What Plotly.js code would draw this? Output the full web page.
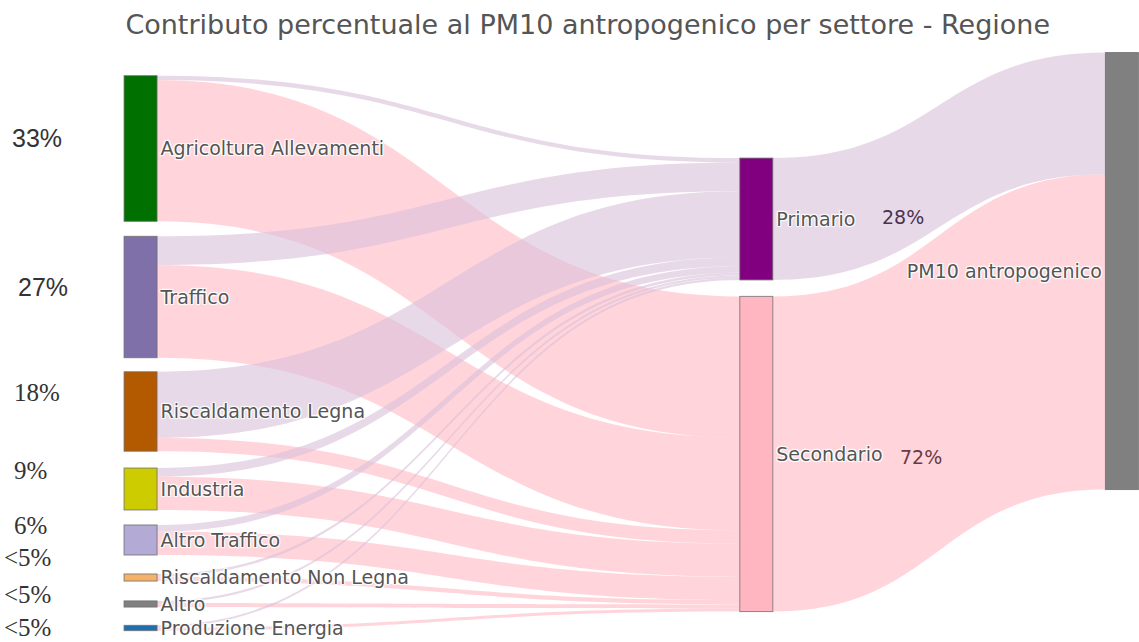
<!DOCTYPE html>
<html>
<head>
<meta charset="utf-8">
<script src="https://cdn.plot.ly/plotly-3.0.1.min.js"></script>
<style>html,body{margin:0;padding:0;background:#fff;}#chart{width:1139px;height:642px;}</style>
</head>
<body>
<div id="chart"></div>
<script>
// ---- data ----
const sectors = ["Agricoltura Allevamenti", "Traffico", "Riscaldamento Legna", "Industria",
                 "Altro Traffico", "Riscaldamento Non Legna", "Altro", "Produzione Energia"];
const stages = ["Primario", "Secondario"];
const total = "PM10 antropogenico";
// contribution (%) of each sector to primary and secondary PM10
const toPrimario   = [1.0, 6.5, 15.0, 2.0, 1.5, 0.6, 0.5, 0.5];
const toSecondario = [32.0, 21.0, 3.0, 7.5, 5.3, 1.0, 0.9, 0.7];
const sectorLabels = ["33%", "27%", "18%", "9%", "6%", "&lt;5%", "&lt;5%", "&lt;5%"];
const stageLabels = ["28%", "72%"];

// ---- styles / layout positions ----
const sectorColors = ["#007000", "#8070aa", "#b35900", "#cccc00", "#b3aad6", "#f6b26b", "#808080", "#1f6eb0"];
const stageColors = ["#800080", "#ffb6c1"];
const totalColor = "#808080";
const linkPrimColor = "rgba(216,191,216,0.6)";
const linkSecColor = "rgba(255,182,193,0.58)";

const sectorNodeX = 0.1234, stageNodeX = 0.664, totalNodeX = 0.985;
const sectorNodeY = [0.1286, 0.3957, 0.6016, 0.7410, 0.8327, 0.9002, 0.9478, 0.991];
const stageNodeY = [0.2554, 0.678];
const totalNodeY = 0.349;

const sectorLabelX = [10, 16, 12, 12, 12, 2, 2, 2];
const sectorLabelY = [0.890, 0.622, 0.432, 0.293, 0.194, 0.135, 0.070, 0.009];
const sectorLabelFont = ["Liberation Sans", "Liberation Sans", "Liberation Serif", "Liberation Serif",
                         "Liberation Serif", "Liberation Serif", "Liberation Serif", "Liberation Serif"];
const sectorLabelSize = [25, 25, 25, 25, 25, 25, 25, 25];
const stageLabelX = [880, 898];
const stageLabelY = [0.748, 0.317];
const stageLabelColor = ["#4a3350", "#6b3a45"];

// ---- build sankey ----
const labels = sectors.concat(stages, [total]);
const nodeColors = sectorColors.concat(stageColors, [totalColor]);
const nx = sectors.map(() => sectorNodeX).concat(stages.map(() => stageNodeX), [totalNodeX]);
const ny = sectorNodeY.concat(stageNodeY, [totalNodeY]);

const src = [], tgt = [], val = [], lcol = [];
const iP = sectors.length, iS = sectors.length + 1, iT = sectors.length + 2;
sectors.forEach((s, i) => {
  src.push(i); tgt.push(iP); val.push(toPrimario[i]); lcol.push(linkPrimColor);
  src.push(i); tgt.push(iS); val.push(toSecondario[i]); lcol.push(linkSecColor);
});
const sumP = toPrimario.reduce((a, b) => a + b, 0);
const sumS = toSecondario.reduce((a, b) => a + b, 0);
src.push(iP); tgt.push(iT); val.push(sumP); lcol.push(linkPrimColor);
src.push(iS); tgt.push(iT); val.push(sumS); lcol.push(linkSecColor);

const trace = {
  type: "sankey",
  arrangement: "fixed",
  orientation: "h",
  domain: {x: [0, 1], y: [0, 1]},
  node: {
    label: labels,
    color: nodeColors,
    x: nx,
    y: ny,
    pad: 17,
    thickness: 33,
    line: {color: "rgba(110,110,110,0.8)", width: 1}
  },
  link: {source: src, target: tgt, value: val, color: lcol},
  textfont: {family: "DejaVu Sans", size: 19, color: "#555"},
  hoverinfo: "skip"
};

const W = 1139;
const annotations = [];
sectorLabels.forEach((t, i) => {
  annotations.push({
    text: t, xref: "paper", yref: "paper",
    x: sectorLabelX[i] / W, y: sectorLabelY[i],
    xanchor: "left", yanchor: "middle", showarrow: false,
    font: {family: sectorLabelFont[i], size: sectorLabelSize[i], color: "#333"}
  });
});
stageLabels.forEach((t, i) => {
  annotations.push({
    text: t, xref: "paper", yref: "paper",
    x: stageLabelX[i] / W, y: stageLabelY[i],
    xanchor: "left", yanchor: "middle", showarrow: false,
    font: {family: "DejaVu Sans", size: 19, color: stageLabelColor[i]}
  });
});

const layout = {
  width: 1139, height: 642,
  margin: {l: 0, r: 0, t: 77, b: 9},
  paper_bgcolor: "#fff",
  title: {
    text: "Contributo percentuale al PM10 antropogenico per settore - Regione",
    x: 0.516, xanchor: "center", y: 0.961, yanchor: "middle", yref: "container",
    font: {family: "DejaVu Sans", size: 27, color: "#555"}
  },
  annotations: annotations,
  font: {family: "DejaVu Sans"}
};

Plotly.newPlot("chart", [trace], layout, {displayModeBar: false, staticPlot: true});
</script>
</body>
</html>
